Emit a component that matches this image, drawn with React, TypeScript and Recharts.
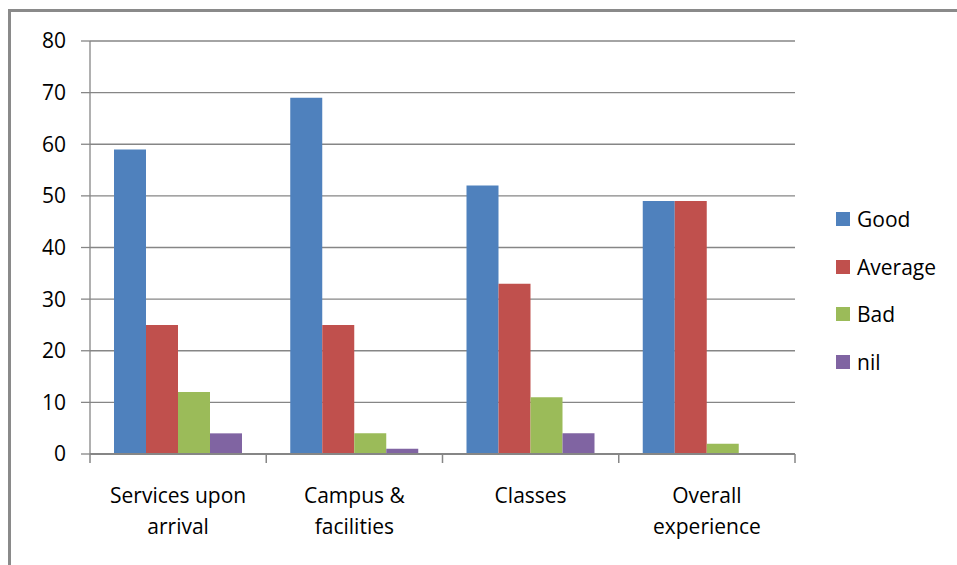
import React from "react"
import { BarChart, Bar, XAxis, YAxis, CartesianGrid } from "recharts"

const categories = ["Services upon arrival", "Campus & facilities", "Classes", "Overall experience"]
const categoryLines = [["Services upon", "arrival"], ["Campus &", "facilities"], ["Classes"], ["Overall", "experience"]]
const good = [59, 69, 52, 49]
const average = [25, 25, 33, 49]
const bad = [12, 4, 11, 2]
const nil = [4, 1, 4, 0]
const yTicks = [0, 10, 20, 30, 40, 50, 60, 70, 80]

const series = [
  { key: "Good", values: good, color: "#4F81BD" },
  { key: "Average", values: average, color: "#C0504D" },
  { key: "Bad", values: bad, color: "#9BBB59" },
  { key: "nil", values: nil, color: "#8064A2" },
]

const data = categories.map((name, i) => {
  const row: any = { name }
  series.forEach((s) => (row[s.key] = s.values[i]))
  return row
})

const W = 957
const H = 565
const margin = { top: 41, right: 162, left: 30, bottom: 81 }
const yAxisWidth = 60
const plotWidth = W - margin.left - margin.right - yAxisWidth
const band = plotWidth / categories.length
const font = "'Open Sans', sans-serif"
const fontSize = 21
const axisColor = "#868686"

// x ticks sit on the category boundaries, like the original
const CategoryTick = ({ x, y, payload, index }: any) => {
  const i = payload.index ?? index
  const lines = categoryLines[i] || [payload.value]
  const isLast = i === categories.length - 1
  return (
    <g>
      <line x1={x - band / 2} x2={x - band / 2} y1={y - 8} y2={y + 1} stroke={axisColor} strokeWidth={1.5} />
      {isLast && <line x1={x + band / 2} x2={x + band / 2} y1={y - 8} y2={y + 1} stroke={axisColor} strokeWidth={1.5} />}
      <text x={x} y={y + 41} textAnchor="middle" fontFamily={font} fontSize={fontSize} fill="#000">
        {lines.map((l: string, k: number) => (
          <tspan key={k} x={x} dy={k === 0 ? 0 : 31}>{l}</tspan>
        ))}
      </text>
    </g>
  )
}

export default function App() {
  return (
    <div style={{ position: "absolute", left: 0, top: 0, width: W, height: H, overflow: "hidden", background: "#fff" }}>
      <div
        style={{
          position: "absolute",
          left: 8,
          top: 9,
          width: W + 20,
          height: H + 20,
          border: "3px solid #8a8a8a",
          boxSizing: "border-box",
        }}
      />
      <BarChart width={W} height={H} data={data} margin={margin} barGap={0} barCategoryGap={24}>
        <CartesianGrid vertical={false} stroke={axisColor} strokeWidth={1.3} />
        <XAxis
          dataKey="name"
          interval={0}
          tickLine={false}
          axisLine={{ stroke: axisColor, strokeWidth: 2 }}
          tick={<CategoryTick />}
        />
        <YAxis
          width={yAxisWidth}
          domain={[0, 80]}
          ticks={yTicks}
          interval={0}
          tickSize={9}
          tickMargin={15}
          axisLine={{ stroke: axisColor, strokeWidth: 1.3 }}
          tickLine={{ stroke: axisColor, strokeWidth: 1.3 }}
          tick={{ fontFamily: font, fontSize, fill: "#000" }}
        />
        {series.map((s) => (
          <Bar key={s.key} dataKey={s.key} fill={s.color} isAnimationActive={false} />
        ))}
      </BarChart>
      <div style={{ position: "absolute", left: 836, top: 195, fontFamily: font, fontSize, color: "#000" }}>
        {series.map((s) => (
          <div key={s.key} style={{ display: "flex", alignItems: "center", height: 47.7 }}>
            <span style={{ width: 14, height: 14, background: s.color, display: "inline-block", marginRight: 7 }} />
            <span>{s.key}</span>
          </div>
        ))}
      </div>
    </div>
  )
}
